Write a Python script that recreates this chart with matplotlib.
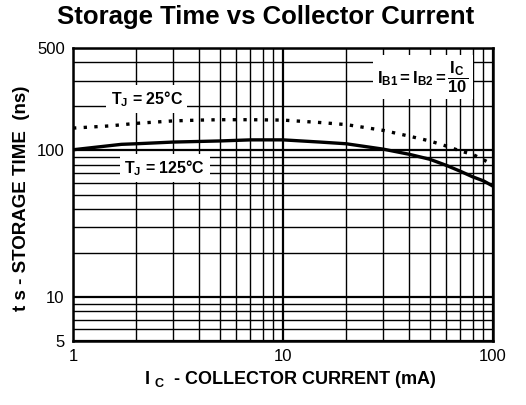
import matplotlib
matplotlib.use("Agg")
import matplotlib.pyplot as plt
from matplotlib.ticker import LogLocator, NullFormatter, FixedLocator, FixedFormatter

plt.rcParams['font.family'] = ['Liberation Sans', 'DejaVu Sans']
plt.rcParams['mathtext.fontset'] = 'custom'
plt.rcParams['mathtext.rm'] = 'Liberation Sans'
plt.rcParams['mathtext.bf'] = 'Liberation Sans:bold'
plt.rcParams['mathtext.it'] = 'Liberation Sans:italic'

# Data
ic_25 = [1, 1.5, 2, 3, 4, 5, 7, 10, 15, 20, 30, 40, 50, 60, 70, 80, 100]
ts_25 = [142, 147, 153, 159, 161, 162, 162, 161, 155, 150, 137, 125, 116, 107, 99, 94, 80]
ic_125 = [1, 1.7, 2, 3, 5, 7, 10, 15, 20, 30, 40, 50, 60, 70, 80, 90, 100]
ts_125 = [101, 110, 111, 114, 116, 118, 118, 114, 111, 102, 94, 87, 79, 72, 66, 62, 57]

y_ticks = [5, 10, 100, 500]
y_labels = ["5", "10", "100", "500"]
x_ticks = [1, 10, 100]
x_labels = ["1", "10", "100"]

fig = plt.figure(figsize=(5.26, 4.05), dpi=100)
ax = fig.add_axes([73/526, 1-341/405, (493-73)/526, (341-48)/405])
ax.set_xscale('log')
ax.set_yscale('log')
ax.set_xlim(1, 100)
ax.set_ylim(5, 500)

ax.xaxis.set_major_locator(FixedLocator(x_ticks))
ax.xaxis.set_major_formatter(FixedFormatter(x_labels))
ax.xaxis.set_minor_locator(LogLocator(base=10, subs=[2, 3, 4, 5, 6, 7, 8, 9]))
ax.xaxis.set_minor_formatter(NullFormatter())
ax.yaxis.set_major_locator(FixedLocator(y_ticks))
ax.yaxis.set_major_formatter(FixedFormatter(y_labels))
ax.yaxis.set_minor_locator(LogLocator(base=10, subs=[2, 3, 4, 5, 6, 7, 8, 9]))
ax.yaxis.set_minor_formatter(NullFormatter())

ax.grid(which='major', color='black', linewidth=1.6, zorder=1)
ax.grid(which='minor', color='black', linewidth=1.0, zorder=1)
ax.tick_params(which='both', length=0, labelsize=12, pad=6)
for s in ax.spines.values():
    s.set_linewidth(1.8)

ax.plot(ic_25, ts_25, color='black', linewidth=2.4, linestyle=(0, (1, 2.2)), zorder=3)
ax.plot(ic_125, ts_125, color='black', linewidth=2.4, zorder=3)

box = dict(facecolor='white', edgecolor='none', pad=3)
ax.text(2.24, 225, r"$\mathbf{T}_{\mathbf{J}}$ = 25°C", fontsize=11.5, fontweight='bold',
        ha='center', va='center', bbox=box, zorder=4)
ax.text(2.74, 76, r"$\mathbf{T}_{\mathbf{J}}$ = 125°C", fontsize=11.5, fontweight='bold',
        ha='center', va='center', bbox=box, zorder=4)
ax.text(46.4, 318, r"$\mathbf{I_{B1} = I_{B2} =} \dfrac{\mathbf{I_C}}{\mathbf{10}}$", fontsize=12,
        ha='center', va='center', bbox=box, zorder=4)

fig.text(266/526, 1-17/405, "Storage Time vs Collector Current", ha='center', va='center',
         fontsize=18.5, fontweight='bold')
fig.text(290/526, 1-380/405, r"$\mathbf{I}$ $_{\mathbf{C}}$  - COLLECTOR CURRENT (mA)",
         ha='center', va='center', fontsize=13, fontweight='bold')
fig.text(22/526, 1-198/405, "t s - STORAGE TIME  (ns)", rotation=90,
         ha='center', va='center', fontsize=13.5, fontweight='bold')

fig.savefig("out.png", dpi=100)
